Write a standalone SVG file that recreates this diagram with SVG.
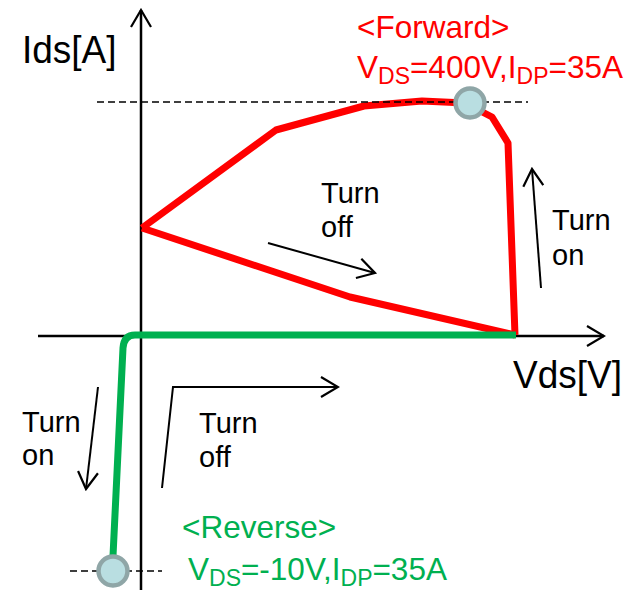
<svg xmlns="http://www.w3.org/2000/svg" width="625" height="591" viewBox="0 0 625 591">
  <style>
    .axis { stroke: #000; stroke-width: 2.5; fill: none; }
    .arrow { stroke: #000; stroke-width: 2; fill: none; }
    .ref { stroke: #000; stroke-width: 1.5; stroke-dasharray: 7 4; fill: none; }
    .fwd { stroke: #ff0000; stroke-width: 7; fill: none; stroke-linejoin: round; }
    .rev { stroke: #00b050; stroke-width: 7; fill: none; stroke-linejoin: round; }
    .pt { fill: #b9dee1; stroke: #8fa6a7; stroke-width: 4.5; }
    text { font-family: "Liberation Sans", Arial, sans-serif; }
    .lbl { font-size: 29px; fill: #000; }
    .ax { font-size: 37px; fill: #000; }
    .red { font-size: 31.5px; fill: #ff0000; }
    .grn { font-size: 31.5px; fill: #00b050; }
    .sub { font-size: 23px; }
  </style>
  <defs>
    <marker id="head" viewBox="-20 -12 22 24" markerWidth="22" markerHeight="24" refX="0" refY="0" orient="auto" markerUnits="userSpaceOnUse">
      <path d="M-17,-10 L0,0 L-17,10" stroke="#000" stroke-width="2.2" fill="none"/>
    </marker>
  </defs>

  <!-- axes -->
  <g id="axes">
    <line class="axis" x1="141" y1="590" x2="141" y2="10" marker-end="url(#head)"/>
    <line class="axis" x1="38" y1="336" x2="604" y2="336" marker-end="url(#head)"/>
    <text class="ax" transform="translate(22,63) scale(1,1.06)">Ids[A]</text>
    <text class="ax" font-size="36" transform="translate(513,388) scale(1,1.04)">Vds[V]</text>
  </g>

  <!-- forward switching locus -->
  <g id="forward">
    <path class="fwd" d="M142,228 L276,130 L364,106 L422,101 L465,103 L492,117 L508,143 L515,335"/>
    <path class="fwd" d="M515,335 L350,297 L142,228"/>
  </g>

  <!-- reverse switching locus -->
  <g id="reverse">
    <path class="rev" d="M516,335 L135,335 Q124,335 123,348 L113,556"/>
  </g>

  <!-- peak current reference lines -->
  <g id="references">
    <line class="ref" x1="97" y1="102" x2="528" y2="102"/>
    <line class="ref" x1="70" y1="571" x2="162" y2="571"/>
  </g>

  <!-- operating points -->
  <g id="point-forward"><circle class="pt" cx="470" cy="103" r="14.5"/></g>
  <g id="point-reverse"><circle class="pt" cx="113" cy="571" r="14.5"/></g>

  <!-- direction arrows -->
  <g id="connectors">
    <line class="arrow" x1="268" y1="243" x2="375" y2="273" marker-end="url(#head)"/>
    <line class="arrow" x1="541" y1="288" x2="532" y2="169" marker-end="url(#head)"/>
    <line class="arrow" x1="98" y1="387" x2="86" y2="489" marker-end="url(#head)"/>
    <polyline class="arrow" points="162,488 173,387 338,387" marker-end="url(#head)"/>
  </g>

  <!-- labels -->
  <g id="label-forward">
    <text class="red" x="357" y="38">&lt;Forward&gt;</text>
    <text class="red" x="357" y="78">V<tspan class="sub" dy="6">DS</tspan><tspan dy="-6">=400V,I</tspan><tspan class="sub" dy="6">DP</tspan><tspan dy="-6">=35A</tspan></text>
  </g>
  <g id="label-reverse">
    <text class="grn" x="182" y="538">&lt;Reverse&gt;</text>
    <text class="grn" x="188" y="580">V<tspan class="sub" dy="6">DS</tspan><tspan dy="-6">=-10V,I</tspan><tspan class="sub" dy="6">DP</tspan><tspan dy="-6">=35A</tspan></text>
  </g>
  <g id="label-fwd-off">
    <text class="lbl" x="321" y="203">Turn</text>
    <text class="lbl" x="321" y="237">off</text>
  </g>
  <g id="label-fwd-on">
    <text class="lbl" x="552" y="230">Turn</text>
    <text class="lbl" x="552" y="265">on</text>
  </g>
  <g id="label-rev-on">
    <text class="lbl" x="22" y="432">Turn</text>
    <text class="lbl" x="22" y="465">on</text>
  </g>
  <g id="label-rev-off">
    <text class="lbl" x="199" y="433">Turn</text>
    <text class="lbl" x="199" y="467">off</text>
  </g>
</svg>
